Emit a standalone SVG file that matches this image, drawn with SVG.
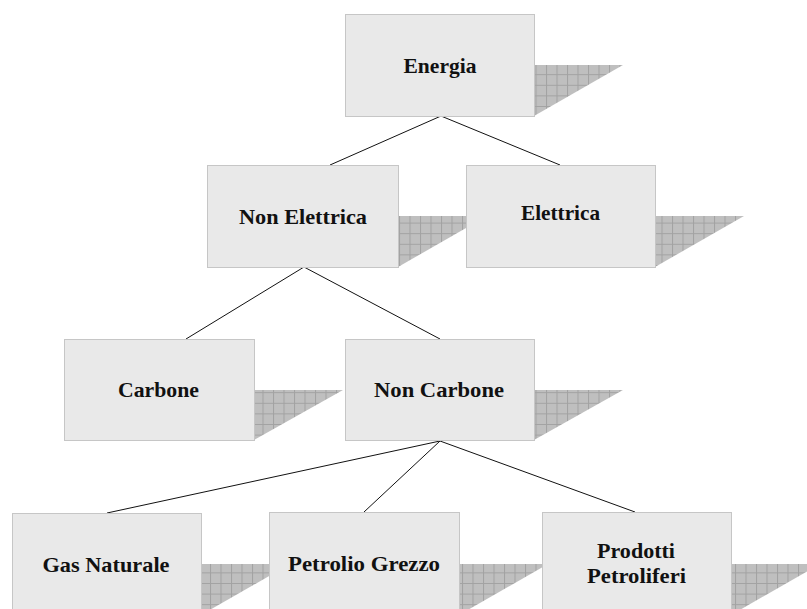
<svg xmlns="http://www.w3.org/2000/svg" width="807" height="609" viewBox="0 0 807 609">
<style>
.box{fill:#e9e9e9;stroke:#c6c6c6;stroke-width:1}
.sh{fill:url(#grid)}
.lbl{font-family:"Liberation Serif","Times New Roman",serif;font-weight:bold;font-size:21px;fill:#111;text-anchor:middle}
.con{stroke:#111;stroke-width:1;fill:none}
</style>
<defs>
<pattern id="grid" patternUnits="userSpaceOnUse" width="10.5" height="10.6">
<rect width="10.5" height="10.6" fill="#bfbfbf"/>
<path d="M0 0.5H10.5M0.5 0V10.6" stroke="#a2a2a2" stroke-width="1"/>
</pattern>
</defs>
<rect width="807" height="609" fill="#ffffff"/>
<g id="shadows">
<polygon class="sh" points="534,65 623,65 534,116"/>
<polygon class="sh" points="398,216 487,216 398,267"/>
<polygon class="sh" points="655,216 744,216 655,267"/>
<polygon class="sh" points="254,390 343,390 254,440"/>
<polygon class="sh" points="534,390 623,390 534,440"/>
<polygon class="sh" points="201,564 290,564 201,615"/>
<polygon class="sh" points="459,564 548,564 459,615"/>
<polygon class="sh" points="731,564 820,564 731,615"/>
</g>
<g id="connectors">
<line class="con" x1="441" y1="116" x2="330" y2="165"/>
<line class="con" x1="441" y1="116" x2="560" y2="165"/>
<line class="con" x1="304" y1="267" x2="186" y2="339"/>
<line class="con" x1="304" y1="267" x2="440" y2="339"/>
<line class="con" x1="440" y1="441" x2="107" y2="513"/>
<line class="con" x1="440" y1="441" x2="364" y2="512"/>
<line class="con" x1="440" y1="441" x2="635" y2="512"/>
</g>
<g id="energia">
<rect class="box" x="345.5" y="14.5" width="189" height="102"/>
<text class="lbl" x="440" y="73" textLength="73" lengthAdjust="spacingAndGlyphs">Energia</text>
</g>
<g id="non-elettrica">
<rect class="box" x="207.5" y="165.5" width="191" height="102"/>
<text class="lbl" x="303" y="224" textLength="128" lengthAdjust="spacingAndGlyphs">Non Elettrica</text>
</g>
<g id="elettrica">
<rect class="box" x="466.5" y="165.5" width="189" height="102"/>
<text class="lbl" x="560.5" y="220" textLength="79" lengthAdjust="spacingAndGlyphs">Elettrica</text>
</g>
<g id="carbone">
<rect class="box" x="64.5" y="339.5" width="190" height="101"/>
<text class="lbl" x="158.5" y="397" textLength="81" lengthAdjust="spacingAndGlyphs">Carbone</text>
</g>
<g id="non-carbone">
<rect class="box" x="345.5" y="339.5" width="189" height="101"/>
<text class="lbl" x="439" y="397" textLength="130" lengthAdjust="spacingAndGlyphs">Non Carbone</text>
</g>
<g id="gas-naturale">
<rect class="box" x="12.5" y="513.5" width="189" height="102"/>
<text class="lbl" x="106" y="572" textLength="127" lengthAdjust="spacingAndGlyphs">Gas Naturale</text>
</g>
<g id="petrolio-grezzo">
<rect class="box" x="269.5" y="512.5" width="190" height="102"/>
<text class="lbl" x="364" y="571" textLength="152" lengthAdjust="spacingAndGlyphs">Petrolio Grezzo</text>
</g>
<g id="prodotti-petroliferi">
<rect class="box" x="542.5" y="512.5" width="189" height="102"/>
<text class="lbl" x="636" y="558" textLength="78" lengthAdjust="spacingAndGlyphs">Prodotti</text>
<text class="lbl" x="636.5" y="583" textLength="99" lengthAdjust="spacingAndGlyphs">Petroliferi</text>
</g>
</svg>
